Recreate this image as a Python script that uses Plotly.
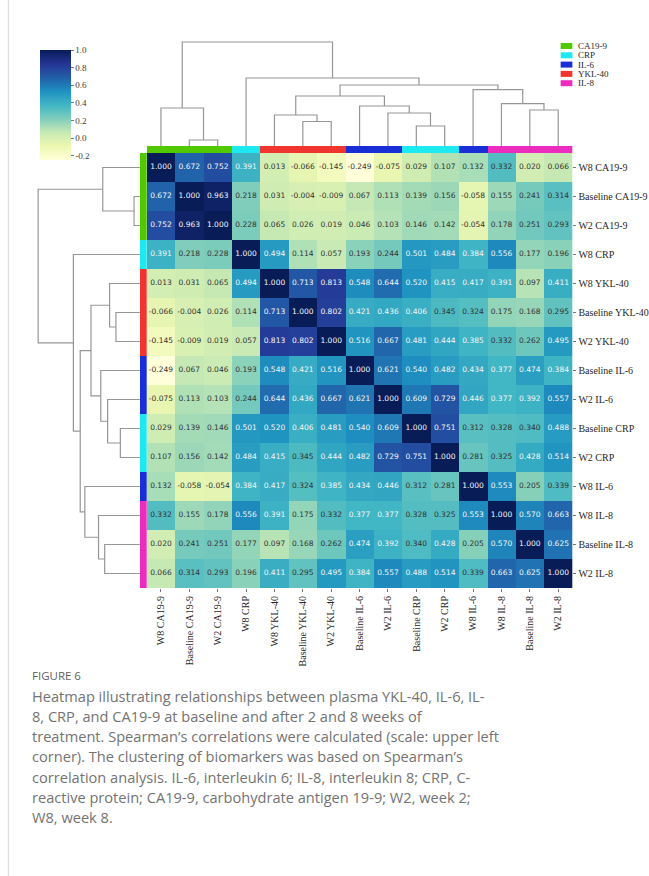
import plotly.graph_objects as go
import plotly.colors as pc

W, H = 649, 876


def px_x(x):
    return x / W


def px_y(y):
    return 1 - y / H


# ---------------- data ----------------
labels = [
    "W8 CA19-9", "Baseline CA19-9", "W2 CA19-9", "W8 CRP",
    "W8 YKL-40", "Baseline YKL-40", "W2 YKL-40",
    "Baseline IL-6", "W2 IL-6", "Baseline CRP", "W2 CRP",
    "W8 IL-6", "W8 IL-8", "Baseline IL-8", "W2 IL-8",
]

corr = [
    [1.000, 0.672, 0.752, 0.391, 0.013, -0.066, -0.145, -0.249, -0.075, 0.029, 0.107, 0.132, 0.332, 0.020, 0.066],
    [0.672, 1.000, 0.963, 0.218, 0.031, -0.004, -0.009, 0.067, 0.113, 0.139, 0.156, -0.058, 0.155, 0.241, 0.314],
    [0.752, 0.963, 1.000, 0.228, 0.065, 0.026, 0.019, 0.046, 0.103, 0.146, 0.142, -0.054, 0.178, 0.251, 0.293],
    [0.391, 0.218, 0.228, 1.000, 0.494, 0.114, 0.057, 0.193, 0.244, 0.501, 0.484, 0.384, 0.556, 0.177, 0.196],
    [0.013, 0.031, 0.065, 0.494, 1.000, 0.713, 0.813, 0.548, 0.644, 0.520, 0.415, 0.417, 0.391, 0.097, 0.411],
    [-0.066, -0.004, 0.026, 0.114, 0.713, 1.000, 0.802, 0.421, 0.436, 0.406, 0.345, 0.324, 0.175, 0.168, 0.295],
    [-0.145, -0.009, 0.019, 0.057, 0.813, 0.802, 1.000, 0.516, 0.667, 0.481, 0.444, 0.385, 0.332, 0.262, 0.495],
    [-0.249, 0.067, 0.046, 0.193, 0.548, 0.421, 0.516, 1.000, 0.621, 0.540, 0.482, 0.434, 0.377, 0.474, 0.384],
    [-0.075, 0.113, 0.103, 0.244, 0.644, 0.436, 0.667, 0.621, 1.000, 0.609, 0.729, 0.446, 0.377, 0.392, 0.557],
    [0.029, 0.139, 0.146, 0.501, 0.520, 0.406, 0.481, 0.540, 0.609, 1.000, 0.751, 0.312, 0.328, 0.340, 0.488],
    [0.107, 0.156, 0.142, 0.484, 0.415, 0.345, 0.444, 0.482, 0.729, 0.751, 1.000, 0.281, 0.325, 0.428, 0.514],
    [0.132, -0.058, -0.054, 0.384, 0.417, 0.324, 0.385, 0.434, 0.446, 0.312, 0.281, 1.000, 0.553, 0.205, 0.339],
    [0.332, 0.155, 0.178, 0.556, 0.391, 0.175, 0.332, 0.377, 0.377, 0.328, 0.325, 0.553, 1.000, 0.570, 0.663],
    [0.020, 0.241, 0.251, 0.177, 0.097, 0.168, 0.262, 0.474, 0.392, 0.340, 0.428, 0.205, 0.570, 1.000, 0.625],
    [0.066, 0.314, 0.293, 0.196, 0.411, 0.295, 0.495, 0.384, 0.557, 0.488, 0.514, 0.339, 0.663, 0.625, 1.000],
]

group_names = ["CA19-9", "CRP", "IL-6", "YKL-40", "IL-8"]
group_colors = ["rgb(82,200,0)", "rgb(28,234,240)", "rgb(26,46,214)", "rgb(240,52,46)", "rgb(236,44,190)"]
label_groups = [0, 0, 0, 1, 3, 3, 3, 2, 2, 1, 1, 2, 4, 4, 4]

# hierarchical clustering merges: (child_a, child_b, height); leaves 0..14, nodes 15+
merge_a = [1, 0, 5, 4, 9, 8, 7, 18, 13, 12, 11, 22, 3, 16]
merge_b = [2, 15, 6, 17, 10, 19, 20, 21, 14, 23, 24, 25, 26, 27]
merge_h = [6.0, 38.0, 24.5, 31.0, 20.0, 33.0, 40.0, 50.0, 36.0, 42.3, 56.3, 61.0, 68.0, 104.0]

colorbar_ticks = [-0.2, 0.0, 0.2, 0.4, 0.6, 0.8, 1.0]

caption_title = "FIGURE 6"
caption_lines = [
    "Heatmap illustrating relationships between plasma YKL-40, IL-6, IL-",
    "8, CRP, and CA19-9 at baseline and after 2 and 8 weeks of",
    "treatment. Spearman\u2019s correlations were calculated (scale: upper left",
    "corner). The clustering of biomarkers was based on Spearman\u2019s",
    "correlation analysis. IL-6, interleukin 6; IL-8, interleukin 8; CRP, C-",
    "reactive protein; CA19-9, carbohydrate antigen 19-9; W2, week 2;",
    "W8, week 8.",
]

# ---------------- figure ----------------
n = len(labels)
idx = list(range(n))
SERIF = "Liberation Serif, Times New Roman, serif"
SANS = "DejaVu Sans, sans-serif"
CAP = "Open Sans, Lato, sans-serif"

fig = go.Figure()

fig.add_trace(go.Heatmap(
    z=corr, x=idx, y=idx, xaxis="x", yaxis="y",
    colorscale=pc.sequential.YlGnBu, zmin=-0.249, zmax=1.0,
    hoverinfo="skip",
    colorbar=dict(
        x=px_x(41), xanchor="left", xpad=0,
        y=px_y(50), yanchor="top", ypad=0,
        len=110, lenmode="pixels", thickness=31, thicknessmode="pixels",
        outlinewidth=0, ticks="outside", ticklen=3, tickcolor="rgb(120,120,120)",
        tickvals=colorbar_ticks, ticktext=[f"{t:.1f}" for t in colorbar_ticks],
        tickfont=dict(family=SERIF, size=9, color="rgb(60,60,60)"),
    ),
))

# cell text (white on dark cells, dark on light cells)
lx, ly, lt, dx, dy, dt = [], [], [], [], [], []
for i in range(n):
    for j in range(n):
        v = corr[i][j]
        s = f"{v:.3f}"
        if v >= 0.36:
            lx.append(j); ly.append(i); lt.append(s)
        else:
            dx.append(j); dy.append(i); dt.append(s)
fig.add_trace(go.Scatter(x=lx, y=ly, text=lt, mode="text", xaxis="x", yaxis="y",
                         textfont=dict(family=SANS, size=7.5, color="rgb(245,245,245)"),
                         hoverinfo="skip", showlegend=False))
fig.add_trace(go.Scatter(x=dx, y=dy, text=dt, mode="text", xaxis="x", yaxis="y",
                         textfont=dict(family=SANS, size=7.5, color="rgb(50,50,50)"),
                         hoverinfo="skip", showlegend=False))

# dendrogram geometry from the merge list
pos = {i: float(i) for i in range(n)}
hgt = {i: 0.0 for i in range(n)}
seg_p, seg_h = [], []
for k, (a, b, h) in enumerate(zip(merge_a, merge_b, merge_h)):
    node = n + k
    seg_p += [pos[a], pos[a], pos[b], pos[b], None]
    seg_h += [hgt[a], h, h, hgt[b], None]
    pos[node] = (pos[a] + pos[b]) / 2
    hgt[node] = h

line_style = dict(color="rgb(150,150,150)", width=1.2)
fig.add_trace(go.Scatter(x=seg_p, y=seg_h, mode="lines", line=line_style,
                         xaxis="x2", yaxis="y2", hoverinfo="skip", showlegend=False))
fig.add_trace(go.Scatter(x=seg_h, y=seg_p, mode="lines", line=line_style,
                         xaxis="x3", yaxis="y3", hoverinfo="skip", showlegend=False))

# group colour strips
strip_scale = [[g / (len(group_colors) - 1), c] for g, c in enumerate(group_colors)]
fig.add_trace(go.Heatmap(z=[label_groups], x=idx, y=[0], xaxis="x4", yaxis="y4",
                         colorscale=strip_scale, zmin=0, zmax=len(group_colors) - 1,
                         showscale=False, hoverinfo="skip"))
fig.add_trace(go.Heatmap(z=[[g] for g in label_groups], x=[0], y=idx, xaxis="x5", yaxis="y5",
                         colorscale=strip_scale, zmin=0, zmax=len(group_colors) - 1,
                         showscale=False, hoverinfo="skip"))

hm_x = [px_x(150), px_x(585)]
hm_y = [px_y(588), px_y(153)]
DMAX = 110
hidden = dict(visible=False, showgrid=False, zeroline=False, fixedrange=True)

fig.update_layout(
    width=W, height=H,
    margin=dict(l=0, r=0, t=0, b=0),
    paper_bgcolor="white", plot_bgcolor="white",
    showlegend=False,
    xaxis=dict(domain=hm_x, anchor="y", range=[-0.5, n - 0.5],
               tickmode="array", tickvals=idx, ticktext=labels, tickangle=-90,
               ticks="outside", ticklen=3, tickcolor="rgb(120,120,120)",
               tickfont=dict(family=SERIF, size=10, color="rgb(40,40,40)"),
               showgrid=False, zeroline=False, showline=False),
    yaxis=dict(domain=hm_y, anchor="x", range=[n - 0.5, -0.5], side="right",
               tickmode="array", tickvals=idx, ticktext=labels,
               ticks="outside", ticklen=3, tickcolor="rgb(120,120,120)",
               tickfont=dict(family=SERIF, size=10, color="rgb(40,40,40)"),
               showgrid=False, zeroline=False, showline=False),
    xaxis2=dict(domain=hm_x, anchor="y2", range=[-0.5, n - 0.5], **hidden),
    yaxis2=dict(domain=[px_y(146), px_y(146 - DMAX)], anchor="x2", range=[0, DMAX], **hidden),
    xaxis3=dict(domain=[px_x(143 - DMAX), px_x(143)], anchor="y3", range=[DMAX, 0], **hidden),
    yaxis3=dict(domain=hm_y, anchor="x3", range=[n - 0.5, -0.5], **hidden),
    xaxis4=dict(domain=hm_x, anchor="y4", range=[-0.5, n - 0.5], **hidden),
    yaxis4=dict(domain=[px_y(153), px_y(146)], anchor="x4", range=[-0.5, 0.5], **hidden),
    xaxis5=dict(domain=[px_x(143), px_x(150)], anchor="y5", range=[-0.5, 0.5], **hidden),
    yaxis5=dict(domain=hm_y, anchor="x5", range=[n - 0.5, -0.5], **hidden),
)

shapes = []
annotations = []

# manual legend
for k, (name, col) in enumerate(zip(group_names, group_colors)):
    yc = 46 + 9.3 * k
    shapes.append(dict(type="rect", xref="paper", yref="paper",
                       x0=px_x(573), x1=px_x(585), y0=px_y(yc + 3), y1=px_y(yc - 3),
                       fillcolor=col, line=dict(width=0)))
    annotations.append(dict(text=name, xref="paper", yref="paper", x=px_x(589), y=px_y(yc),
                            xanchor="left", yanchor="middle", showarrow=False,
                            font=dict(family=SERIF, size=9, color="rgb(40,40,40)")))

# page border line
shapes.append(dict(type="line", xref="paper", yref="paper", x0=px_x(8.5), x1=px_x(8.5),
                   y0=0, y1=1, line=dict(color="rgb(215,215,215)", width=1)))

# caption
annotations.append(dict(text=caption_title, xref="paper", yref="paper", x=px_x(31), y=px_y(675),
                        xanchor="left", yanchor="middle", showarrow=False,
                        font=dict(family=CAP, size=11.5, color="rgb(95,95,95)")))
for k, line in enumerate(caption_lines):
    annotations.append(dict(text=line, xref="paper", yref="paper", x=px_x(31), y=px_y(695.5 + 20.25 * k),
                            xanchor="left", yanchor="middle", showarrow=False,
                            font=dict(family=CAP, size=14.6, color="rgb(115,115,115)")))

fig.update_layout(shapes=shapes, annotations=annotations)

fig.write_html("out.html")
